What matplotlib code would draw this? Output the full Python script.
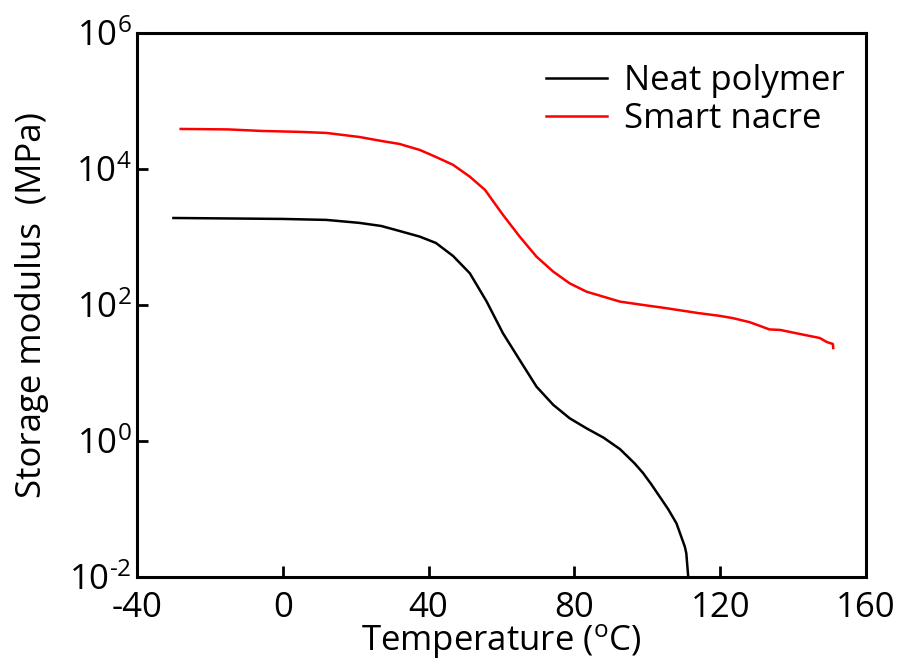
import numpy as np
import matplotlib
matplotlib.use("Agg")
import matplotlib.pyplot as plt

# data (temperature in degC, storage modulus in MPa)
neat_temp = [-30, -15, 0, 12, 21, 27, 32, 37.6, 42, 46.7, 51.3, 55.9, 60.4,
             65.0, 69.6, 74.2, 78.7, 83.3, 88, 92.5, 96.5, 98.8, 101, 103.4,
             105.7, 108, 110.3, 110.7, 111.3]
neat_mod = [1900, 1870, 1840, 1780, 1610, 1450, 1225, 1010, 816, 526, 293, 113,
            38.4, 15.5, 6.3, 3.4, 2.16, 1.54, 1.12, 0.76, 0.47, 0.34, 0.235,
            0.152, 0.1, 0.0616, 0.0279, 0.0223, 0.009]

nacre_temp = [-28, -15, -6, 5, 12, 21, 27, 32, 37.6, 42, 46.7, 51.3, 55.5,
              60.4, 65.0, 69.6, 74.2, 78.7, 83.3, 92.5, 100, 105, 114, 120,
              123.5, 128, 131, 133.5, 136.4, 141.8, 147.3, 149.2, 150.9, 151]
nacre_mod = [38700, 38100, 36200, 35000, 33800, 29500, 25800, 23300, 19000,
             15000, 11500, 7700, 4900, 2110, 1010, 513, 309, 208, 157, 112, 98,
             90, 76, 69, 64, 56, 49, 43.7, 43, 37.5, 32.7, 28.6, 26.7, 23.3]

xticks = [-40, 0, 40, 80, 120, 160]
xtick_labels = ["-40", "0", "40", "80", "120", "160"]
yticks = [1e-2, 1e0, 1e2, 1e4, 1e6]
ytick_labels = [r"10$^{\text{-2}}$", r"10$^{\text{0}}$", r"10$^{\text{2}}$",
                r"10$^{\text{4}}$", r"10$^{\text{6}}$"]

plt.rcParams['font.family'] = ['Open Sans', 'DejaVu Sans']
plt.rcParams['mathtext.fontset'] = 'custom'
plt.rcParams['mathtext.rm'] = 'Open Sans'
plt.rcParams['mathtext.it'] = 'Open Sans:italic'
plt.rcParams['mathtext.bf'] = 'Open Sans:bold'

fig = plt.figure(figsize=(9.04, 6.71), dpi=100)
ax = fig.add_axes([0.1515, 0.140, 0.8065, 0.811])

ax.plot(neat_temp, neat_mod, color='black', lw=1.8, label='Neat polymer')
ax.plot(nacre_temp, nacre_mod, color='red', lw=1.8, label='Smart nacre')

ax.set_yscale('log')
ax.set_xlim(-40, 160)
ax.set_ylim(1e-2, 1e6)
ax.set_xticks(xticks)
ax.set_xticklabels(xtick_labels)
ax.set_yticks(yticks)
ax.set_yticklabels(ytick_labels)
ax.minorticks_off()
ax.tick_params(direction='in', length=8, width=2, labelsize=25)
ax.tick_params(axis='x', pad=10)
ax.tick_params(axis='y', pad=4)

for s in ax.spines.values():
    s.set_linewidth(2.2)

ax.set_xlabel(r'Temperature ($^{\text{o}}$C)', fontsize=25, labelpad=-2)
ax.set_ylabel('Storage modulus  (MPa)', fontsize=25, labelpad=14)

ax.legend(loc='upper right', frameon=False, fontsize=25, handlelength=1.75,
          labelspacing=0.12, handletextpad=0.5, borderaxespad=0.0,
          bbox_to_anchor=(0.99, 0.968))

fig.savefig('out.png', dpi=100)
